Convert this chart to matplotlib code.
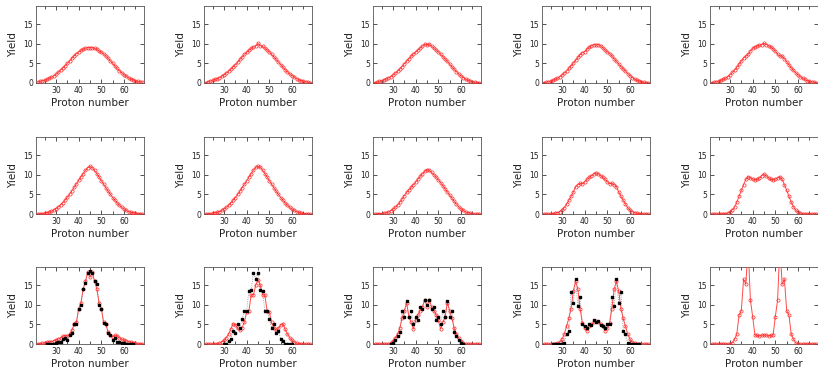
import matplotlib.pyplot as plt
import numpy as np
from matplotlib.ticker import MultipleLocator

# proton number grid (Z = 22 .. 68)
z = list(range(22, 69))

# red curves (calculated yields), one list per panel, row by row
y_r1c1 = [0.2, 0.4, 0.6, 0.7, 0.9, 1.2, 1.5, 1.8, 2.2, 2.7, 3.3, 3.8, 4.4, 5.0, 5.6, 6.3,
          6.9, 7.5, 7.9, 8.3, 8.6, 8.9, 9.0, 9.0, 9.0, 8.8, 8.6, 8.1, 7.8, 7.4, 6.9, 6.3,
          5.6, 5.0, 4.3, 3.7, 3.1, 2.6, 2.1, 1.7, 1.3, 1.0, 0.8, 0.6, 0.4, 0.3, 0.2]
y_r1c2 = [0.1, 0.3, 0.5, 0.7, 0.9, 1.1, 1.4, 1.7, 2.1, 2.5, 3.0, 3.5, 4.1, 4.7, 5.3, 6.0,
          6.6, 7.3, 7.8, 8.3, 8.8, 9.2, 9.4, 10.1, 9.5, 9.3, 8.9, 8.4, 7.9, 7.3, 6.6, 6.0,
          5.3, 4.7, 4.0, 3.4, 2.8, 2.3, 1.9, 1.5, 1.1, 0.8, 0.6, 0.4, 0.3, 0.2, 0.1]
y_r1c3 = [0.1, 0.2, 0.4, 0.6, 0.8, 1.0, 1.3, 1.6, 2.0, 2.5, 3.0, 3.6, 4.2, 4.9, 5.6, 6.2,
          6.8, 7.4, 7.9, 8.4, 8.9, 9.4, 9.9, 9.7, 9.9, 9.4, 8.9, 8.4, 7.9, 7.3, 6.7, 6.1,
          5.5, 4.8, 4.1, 3.5, 2.9, 2.3, 1.8, 1.4, 1.0, 0.7, 0.5, 0.3, 0.2, 0.1, 0.1]
y_r1c4 = [0.1, 0.2, 0.3, 0.5, 0.7, 0.9, 1.2, 1.6, 2.0, 2.5, 3.1, 3.7, 4.4, 5.1, 5.8, 6.5,
          7.2, 7.7, 8.0, 8.6, 9.1, 9.5, 9.8, 9.7, 9.8, 9.5, 9.0, 8.4, 7.9, 7.5, 6.9, 6.2,
          5.5, 4.8, 4.2, 3.6, 3.0, 2.4, 1.9, 1.4, 1.0, 0.7, 0.5, 0.3, 0.2, 0.1, 0.1]
y_r1c5 = [0.1, 0.2, 0.3, 0.5, 0.7, 0.9, 1.2, 1.6, 2.1, 2.7, 3.3, 4.0, 4.8, 5.6, 6.4, 6.8,
          7.3, 8.2, 8.8, 9.2, 9.5, 9.6, 9.8, 10.1, 9.8, 9.5, 9.2, 8.7, 8.1, 7.3, 6.9, 6.8,
          6.2, 5.4, 4.6, 3.9, 3.2, 2.6, 2.1, 1.6, 1.2, 0.9, 0.6, 0.4, 0.3, 0.2, 0.1]
y_r2c1 = [0.0, 0.1, 0.1, 0.2, 0.3, 0.5, 0.7, 1.0, 1.4, 1.8, 2.3, 2.9, 3.6, 4.3, 5.1, 5.9,
          6.8, 7.7, 8.6, 9.5, 10.3, 11.1, 11.8, 12.1, 11.8, 11.1, 10.3, 9.4, 8.5, 7.6, 6.7, 5.8,
          5.0, 4.2, 3.5, 2.8, 2.2, 1.7, 1.3, 0.9, 0.6, 0.4, 0.3, 0.2, 0.1, 0.1, 0.0]
y_r2c2 = [0.0, 0.1, 0.1, 0.2, 0.3, 0.4, 0.6, 0.9, 1.3, 1.7, 2.2, 2.8, 3.5, 4.2, 5.0, 5.8,
          6.7, 7.6, 8.5, 9.4, 10.3, 11.2, 11.9, 12.1, 11.9, 11.2, 10.3, 9.4, 8.5, 7.6, 6.7, 5.8,
          5.0, 4.2, 3.5, 2.8, 2.2, 1.7, 1.2, 0.9, 0.6, 0.4, 0.2, 0.1, 0.1, 0.0, 0.0]
y_r2c3 = [0.0, 0.0, 0.1, 0.1, 0.2, 0.3, 0.5, 0.8, 1.2, 1.7, 2.3, 3.0, 3.8, 4.7, 5.5, 6.2,
          6.8, 7.5, 8.2, 8.9, 9.6, 10.3, 10.9, 11.3, 11.1, 10.6, 10.0, 9.4, 8.7, 8.0, 7.2, 6.4,
          5.6, 4.8, 4.0, 3.2, 2.5, 1.8, 1.3, 0.9, 0.5, 0.3, 0.2, 0.1, 0.0, 0.0, 0.0]
y_r2c4 = [0.0, 0.0, 0.0, 0.0, 0.1, 0.2, 0.3, 0.6, 1.0, 1.6, 2.5, 3.5, 4.5, 5.6, 7.0, 7.5,
          7.8, 7.7, 8.2, 8.8, 9.3, 9.8, 10.2, 10.5, 10.2, 9.8, 9.3, 8.8, 8.2, 7.7, 7.8, 7.5,
          7.0, 5.6, 4.5, 3.5, 2.5, 1.6, 1.0, 0.6, 0.3, 0.2, 0.1, 0.0, 0.0, 0.0, 0.0]
y_r2c5 = [0.0, 0.0, 0.0, 0.0, 0.0, 0.0, 0.1, 0.2, 0.5, 1.0, 1.8, 3.0, 4.5, 6.0, 7.5, 8.8,
          9.5, 9.2, 8.9, 8.7, 8.8, 9.2, 9.8, 10.2, 9.7, 9.2, 8.8, 8.7, 8.9, 9.2, 9.5, 8.8,
          7.4, 6.0, 4.5, 3.0, 1.8, 1.0, 0.5, 0.2, 0.1, 0.0, 0.0, 0.0, 0.0, 0.0, 0.0]
y_r3c1 = [0.1, 0.1, 0.2, 0.3, 0.4, 0.5, 0.6, 0.8, 1.0, 1.3, 1.5, 2.0, 2.1, 2.0, 2.5, 3.5,
          5.0, 5.5, 9.0, 10.5, 14.0, 16.0, 18.3, 17.0, 18.3, 16.0, 14.0, 10.5, 9.0, 5.5, 5.0, 3.0,
          2.3, 1.8, 2.2, 2.0, 1.5, 1.2, 1.0, 0.8, 0.6, 0.4, 0.3, 0.2, 0.1, 0.1, 0.1]
y_r3c2 = [0.0, 0.0, 0.0, 0.0, 0.0, 0.0, 0.2, 0.5, 0.9, 1.6, 2.5, 3.7, 5.2, 4.9, 4.0, 3.5,
          4.2, 5.5, 8.2, 8.5, 12.5, 12.5, 15.0, 16.3, 15.0, 12.5, 12.5, 8.5, 8.2, 5.5, 4.2, 3.5,
          4.0, 4.9, 5.2, 3.7, 2.5, 1.6, 0.9, 0.5, 0.2, 0.1, 0.0, 0.0, 0.0, 0.0, 0.0]
y_r3c3 = [0.0, 0.0, 0.0, 0.0, 0.0, 0.0, 0.0, 0.3, 0.8, 1.5, 2.5, 4.0, 6.5, 8.5, 10.5, 7.0,
          5.5, 3.8, 6.0, 7.5, 8.5, 9.5, 11.3, 9.5, 11.3, 9.5, 8.5, 7.5, 6.0, 3.8, 5.5, 7.0,
          10.5, 8.5, 6.5, 4.0, 2.5, 1.5, 0.8, 0.3, 0.0, 0.0, 0.0, 0.0, 0.0, 0.0, 0.0]
y_r3c4 = [0.0, 0.0, 0.0, 0.0, 0.0, 0.0, 0.2, 0.5, 1.2, 2.5, 4.5, 6.5, 9.0, 13.5, 16.0, 14.0,
          9.0, 5.3, 4.0, 3.3, 4.5, 5.0, 5.5, 5.8, 5.5, 5.0, 4.5, 3.3, 4.0, 5.3, 9.0, 14.0,
          16.0, 13.5, 9.0, 6.5, 4.5, 2.5, 1.2, 0.5, 0.2, 0.0, 0.0, 0.0, 0.0, 0.0, 0.0]
y_r3c5 = [0.0, 0.0, 0.0, 0.0, 0.0, 0.0, 0.0, 0.0, 0.0, 0.3, 1.2, 2.5, 7.3, 8.5, 16.5, 15.2,
          25.0, 11.2, 7.0, 2.3, 2.2, 2.0, 2.3, 2.2, 2.3, 2.0, 2.2, 2.3, 7.0, 11.2, 25.0, 15.2,
          16.5, 8.5, 7.3, 2.5, 1.2, 0.3, 0.0, 0.0, 0.0, 0.0, 0.0, 0.0, 0.0, 0.0, 0.0]

# black points (measured yields) in the bottom row
zb_c1 = list(range(26, 65))
yb_c1 = [0.0, 0.0, 0.1, 0.1, 0.3, 0.4, 0.5, 1.3, 1.5, 1.0, 2.2, 2.7, 5.0, 5.2, 8.8, 10.0,
         14.0, 15.5, 18.2, 18.5, 18.2, 16.0, 15.2, 10.0, 9.0, 5.4, 5.2, 2.8, 2.4, 1.1, 1.6, 0.6,
         0.4, 0.3, 0.2, 0.1, 0.1, 0.0, 0.0]
zb_c2 = list(range(30, 61))
yb_c2 = [0.0, 0.1, 0.8, 1.3, 3.4, 2.8, 5.0, 4.2, 6.3, 8.5, 8.5, 13.5, 13.7, 18.2, 16.5, 18.2,
         13.7, 13.5, 8.5, 8.5, 6.3, 4.2, 5.0, 2.8, 3.4, 1.3, 0.8, 0.1, 0.0, 0.0, 0.0]
zb_c3 = list(range(29, 62))
yb_c3 = [0.0, 0.3, 1.0, 2.0, 3.0, 8.5, 7.0, 11.0, 7.0, 8.5, 5.2, 6.8, 6.2, 9.5, 8.8, 11.3,
         10.0, 11.3, 8.8, 9.5, 6.2, 6.8, 5.2, 8.5, 7.0, 11.0, 7.0, 8.5, 3.0, 2.0, 1.0, 0.3, 0.0]
zb_c4 = list(range(26, 65))
yb_c4 = [0.0, 0.0, 0.0, 0.0, 0.1, 0.3, 2.5, 3.3, 13.3, 10.5, 16.5, 9.7, 12.0, 5.0, 4.5, 4.0,
         5.0, 4.8, 6.0, 5.5, 5.8, 4.8, 4.5, 4.2, 5.0, 5.2, 12.0, 9.7, 16.5, 10.5, 13.3, 3.3,
         2.5, 0.3, 0.1, 0.0, 0.0, 0.0, 0.0]

red_rows = [[y_r1c1, y_r1c2, y_r1c3, y_r1c4, y_r1c5],
            [y_r2c1, y_r2c2, y_r2c3, y_r2c4, y_r2c5],
            [y_r3c1, y_r3c2, y_r3c3, y_r3c4, y_r3c5]]
black_row = [(zb_c1, yb_c1), (zb_c2, yb_c2), (zb_c3, yb_c3), (zb_c4, yb_c4), None]

W, H = 818, 375
fig = plt.figure(figsize=(W / 100, H / 100), dpi=100)

lefts = [36, 204, 373, 542, 710]
tops = [6, 137, 267]
aw, ah = 108, 77

for r in range(3):
    for c in range(5):
        ax = fig.add_axes([lefts[c] / W, (H - tops[r] - ah) / H, aw / W, ah / H])
        if r == 2 and black_row[c] is not None:
            zb, yb = black_row[c]
            ax.plot(zb, yb, ls=':', color='#888888', lw=0.6, zorder=2)
        ax.plot(z, red_rows[r][c], color='#ff4a4a', lw=0.7, marker='o', ms=2.3,
                mfc='none', mec='#ff2a2a', mew=0.5, zorder=3)
        if r == 2 and black_row[c] is not None:
            ax.plot(zb, yb, ls='none', marker='s', ms=1.8, color='black', zorder=4)
        ax.set_xlim(21.2, 68.8)
        ax.set_ylim(0, 19.6)
        ax.xaxis.set_major_locator(MultipleLocator(10))
        ax.xaxis.set_minor_locator(MultipleLocator(5))
        ax.yaxis.set_major_locator(MultipleLocator(5))
        ax.set_xticks([30, 40, 50, 60])
        ax.tick_params(which='both', direction='in', top=True, right=True,
                       labelsize=5.5, pad=2, width=0.6, color='#333333',
                       labelcolor='#222222')
        ax.tick_params(which='major', length=3)
        ax.tick_params(which='minor', length=2)
        for s in ax.spines.values():
            s.set_linewidth(0.6)
            s.set_color('#555555')
        ax.set_xlabel('Proton number', fontsize=7.5, labelpad=2, color='#222222')
        ax.set_ylabel('Yield', fontsize=7.5, labelpad=4, color='#222222')

fig.savefig('out.png', dpi=100)
